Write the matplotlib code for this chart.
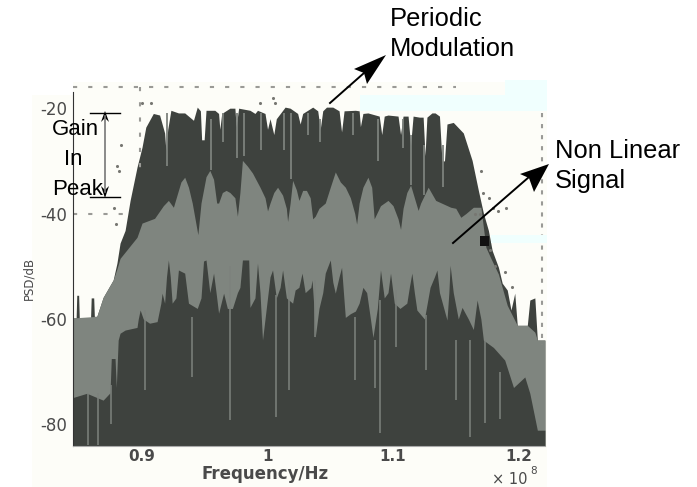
import matplotlib
matplotlib.use('Agg')
import matplotlib.pyplot as plt
from matplotlib.patches import Polygon, Rectangle

W, H = 697, 487

# frequency in units of 1e8 Hz, PSD in dB
upper_freq = [.845, .8475, .848, .8495, .850, .859, .8595, .8615, .862, .864, .869, .877, .880, .8825, .8865, .8905, .896, .900, .903,
              .909, .914, .918, .919, .9205, .923, .929, .934, .941, .944, .9465, .9475, .9495, .951, .958, .961, .962, .9635, .970,
              .974, .975, .977, .986, .990, .992, .998, 1.000, 1.002, 1.005, 1.007, 1.014, 1.018, 1.024, 1.026, 1.028, 1.032, 1.036,
              1.040, 1.042, 1.044, 1.047, 1.052, 1.057, 1.059, 1.061, 1.070, 1.073, 1.074, 1.076, 1.080, 1.089, 1.091, 1.093, 1.096,
              1.104, 1.106, 1.108, 1.112, 1.114, 1.116, 1.121, 1.124, 1.1255, 1.127, 1.131, 1.1335, 1.137, 1.139, 1.141, 1.143, 1.148,
              1.156, 1.163, 1.168, 1.172, 1.176, 1.179, 1.184, 1.187, 1.191, 1.194, 1.197, 1.199, 1.207, 1.209, 1.213, 1.215, 1.221]
upper_psd = [-59.8, -59.8, -55.5, -55.5, -59.8, -59.8, -56.0, -56.0, -59.5, -59.5, -55.9, -52.6, -49.4, -45.6, -43.2, -37.5, -31.2, -27.4, -23.6,
             -21.0, -21.3, -24.7, -28.0, -24.0, -20.4, -20.9, -20.9, -22.3, -19.8, -20.5, -26.0, -26.0, -20.4, -20.4, -21.0, -24.0, -21.0, -20.0,
             -20.0, -23.5, -20.0, -20.4, -21.0, -20.4, -21.0, -24.0, -22.0, -25.0, -22.0, -19.8, -20.0, -21.0, -23.0, -21.0, -20.4, -19.8,
             -20.5, -24.0, -20.5, -19.8, -19.8, -20.5, -24.5, -20.5, -20.4, -20.5, -23.5, -21.0, -20.9, -21.5, -25.0, -21.5, -21.3,
             -21.5, -25.0, -21.5, -21.5, -27.0, -21.5, -21.7, -21.7, -29.0, -21.7, -20.9, -20.9, -21.5, -30.0, -30.0, -23.0, -22.7,
             -24.7, -29.9, -35.6, -39.9, -43.2, -47.0, -50.2, -53.2, -54.5, -58.3, -55.1, -61.2, -61.2, -56.4, -56.0, -64.0, -64.0]

mid_freq = [.845, .864, .869, .877, .880, .8825, .896, .900, .910, .917, .921, .925, .931, .934, .937, .940, .9445, .947, .951, .954, .957,
            .9595, .961, .964, .967, .970, .974, .976, .978, .980, .984, .988, .994, .998, 1.000, 1.002, 1.005, 1.008, 1.012, 1.015, 1.016,
            1.018, 1.020, 1.023, 1.025, 1.028, 1.031, 1.034, 1.036, 1.038, 1.041, 1.046, 1.050, 1.054, 1.058, 1.062, 1.066, 1.0695, 1.071,
            1.073, 1.076, 1.080, 1.083, 1.085, 1.087, 1.090, 1.096, 1.100, 1.104, 1.106, 1.108, 1.111, 1.114, 1.117, 1.120, 1.122, 1.128,
            1.134, 1.146, 1.150, 1.154, 1.158, 1.164, 1.170, 1.174, 1.178, 1.184, 1.191, 1.199, 1.207, 1.213, 1.215, 1.221]
mid_psd = [-59.8, -59.5, -55.9, -52.6, -50.5, -48.5, -44.5, -41.8, -40.9, -38.5, -37.5, -38.8, -34.0, -33.1, -35.0, -38.0, -44.0, -38.0, -33.0, -31.8, -33.5,
           -38.0, -38.0, -36.0, -35.6, -36.0, -37.0, -40.5, -36.0, -29.9, -31.0, -32.3, -35.0, -37.0, -39.5, -38.0, -36.0, -35.0, -36.5, -39.0, -41.5,
           -38.0, -33.7, -35.5, -37.5, -35.6, -35.6, -37.0, -41.0, -40.5, -39.0, -38.0, -35.0, -32.1, -34.0, -35.0, -37.0, -40.0, -42.0,
           -38.0, -35.0, -33.1, -35.0, -41.0, -40.0, -38.5, -37.5, -38.5, -41.0, -43.0, -39.0, -36.0, -34.6, -37.0, -39.4, -38.0, -35.0,
           -37.5, -38.8, -39.0, -40.7, -40.0, -38.8, -38.8, -46.4, -48.5, -51.5, -57.4, -61.2, -61.2, -62.5, -64.0, -64.0]

lower_freq = [.845, .856, .869, .8745, .8755, .8785, .8795, .881, .8825, .8865, .896, .897, .8985, .901, .906, .912, .915, .916, .918, .9195,
              .921, .9225, .924, .927, .929, .934, .937, .944, .947, .949, .951, .954, .957, .959, .961, .965, .968, .972, .976, .978, .980,
              .985, .986, .990, .992, .994, .996, .999, 1.002, 1.004, 1.007, 1.010, 1.012, 1.015, 1.020, 1.022, 1.025, 1.0275, 1.030, 1.0345,
              1.0355, 1.037, 1.038, 1.041, 1.044, 1.046, 1.050, 1.052, 1.054, 1.057, 1.059, 1.0605, 1.062, 1.066, 1.070, 1.073, 1.076, 1.079,
              1.082, 1.084, 1.0875, 1.090, 1.093, 1.096, 1.098, 1.101, 1.1055, 1.111, 1.113, 1.115, 1.117, 1.119, 1.125, 1.1295, 1.133, 1.135,
              1.137, 1.143, 1.1445, 1.1455, 1.148, 1.152, 1.155, 1.160, 1.164, 1.167, 1.170, 1.172, 1.180, 1.189, 1.196, 1.205, 1.209, 1.215, 1.221]
lower_psd = [-74.9, -74.1, -75.4, -74.0, -67.5, -67.5, -73.0, -64.0, -62.7, -62.1, -61.6, -60.0, -58.3, -60.0, -60.8, -60.5, -57.0, -55.1, -57.0, -52.0,
             -48.8, -52.0, -57.0, -56.0, -50.7, -51.3, -57.0, -58.0, -56.0, -49.0, -48.8, -55.0, -51.3, -55.0, -58.9, -55.1, -58.0, -58.0, -55.0, -54.0, -48.8,
             -48.8, -57.8, -56.0, -49.4, -55.0, -64.0, -58.0, -52.0, -50.7, -56.0, -54.0, -50.7, -56.0, -57.0, -54.5, -54.0, -51.3, -55.0, -54.0,
             -52.6, -58.0, -63.5, -58.0, -55.0, -51.3, -48.8, -53.0, -55.1, -52.0, -50.2, -55.0, -59.7, -59.0, -58.5, -57.0, -54.0, -55.0,
             -60.0, -63.5, -58.0, -50.7, -56.0, -55.0, -51.3, -57.0, -58.0, -57.0, -54.0, -51.3, -55.0, -58.3, -60.0, -54.0, -52.0, -50.7,
             -55.0, -60.2, -55.0, -49.8, -55.0, -60.0, -57.8, -60.0, -62.0, -56.4, -60.0, -64.0, -65.4, -67.8, -73.0, -71.0, -74.1, -81.1, -81.1]

# thin light lines inside the dark bands: frequency, from, to
upper_spike_freq = [.920, .955, .9645, .976, .981, .995, 1.013, 1.019, 1.032, 1.042, 1.068, 1.088, 1.108, 1.114, 1.1245, 1.140]
upper_spike_top = [-21, -22, -21, -21, -21, -21, -21, -21, -21, -22, -21, -22, -22, -25, -27, -27]
upper_spike_end = [-31, -31.8, -26.5, -29.5, -29, -28, -28, -33.5, -25, -26.5, -25, -30, -27.5, -34.6, -36.5, -35]

lower_spike_freq = [.857, .865, .875, .902, .940, .970, 1.007, 1.017, 1.038, 1.070, 1.086, 1.090, 1.102, 1.126, 1.150, 1.161, 1.173, 1.185]
lower_spike_top = [-74, -74, -72.6, -58.3, -59.7, -50, -55.5, -52.6, -52.6, -59.7, -64, -56.4, -54.5, -59.3, -64, -64, -64, -70]
lower_spike_end = [-84, -84, -80, -73.5, -71, -79.2, -78.6, -73.5, -63.5, -71.6, -73, -81.7, -65.3, -69.7, -75.4, -82.4, -79.8, -79]

speck_freq = [.907, 1.004, 1.006, .994, .9, .883, .880, .8817, .878, .879, 1.1698, 1.172, 1.180, 1.184, 1.190, 1.1765, 1.165,
              1.169, 1.177, 1.181, 1.189, 1.195]
speck_psd = [-19.0, -18.0, -19.0, -19.0, -19.0, -27.0, -31.0, -32.0, -39.0, -42.0, -32.0, -36.0, -39.0, -39.5, -39.0, -37.0, -40.0,
             -40.0, -47.0, -50.0, -51.0, -54.0]

x_ticks = [0.9, 1.0, 1.1, 1.2]
x_tick_labels = ['0.9', '1', '1.1', '1.2']
y_ticks = [-20, -40, -60, -80]
y_tick_labels = ['-20', '-40', '-60', '-80']

DARK = '#3e423e'
MID = '#7f857f'
LIGHT = '#7d827d'
DOTS = '#9a9a96'
INK = '#4a4a4a'

plt.rcParams['font.family'] = ['Liberation Sans', 'DejaVu Sans']

fig = plt.figure(figsize=(W / 100, H / 100), dpi=100, facecolor='white')

# whole-figure layer in pixel units for the pasted-on notes
back = fig.add_axes([0, 0, 1, 1], zorder=0)
back.set_xlim(0, W)
back.set_ylim(H, 0)
back.axis('off')
back.add_patch(Rectangle((32, 95), 515, 392, color='#fdfdf8', lw=0))
back.add_patch(Rectangle((73, 82), 474, 20, color='#fdfdf8', lw=0))

ax = fig.add_axes([73 / W, 1 - 446 / H, 472 / W, 361 / H], zorder=1)
ax.patch.set_alpha(0)
ax.set_xlim(.845, 1.2211)
ax.set_ylim(-84.1, -15.6)
floor = -84.1

ax.fill_between(upper_freq, upper_psd, floor, color=DARK, lw=0)
ax.vlines(upper_spike_freq, upper_spike_end, upper_spike_top, color=LIGHT, lw=1.3)
ax.fill_between(mid_freq, mid_psd, floor, color=MID, lw=0)
ax.fill_between(lower_freq, lower_psd, floor, color=DARK, lw=0)
ax.vlines(lower_spike_freq, lower_spike_end, lower_spike_top, color=LIGHT, lw=1.1)
ax.scatter(speck_freq, speck_psd, s=5, color='#777772', lw=0, zorder=3)

# dotted remains of the grid
dotted = (0, (2, 5.3))
ax.plot([.845, 1.15], [-16, -16], color=DOTS, lw=1.5, ls=dotted)
ax.plot([.845, .892], [-40, -40], color=DOTS, lw=1.5, ls=dotted)
ax.plot([.8985, .8985], [-16, -32], color=DOTS, lw=1.5, ls=dotted)
ax.plot([1.2185, 1.2185], [-21, -65], color=DOTS, lw=1.5, ls=(0, (2, 3.3)))

ax.set_xticks(x_ticks, x_tick_labels, fontsize=11, family='DejaVu Sans', weight='bold', color=INK)
ax.set_yticks(y_ticks, y_tick_labels, fontsize=12, family='DejaVu Sans', color=INK)
ax.tick_params(length=0)
ax.tick_params(axis='x', pad=2.5)
ax.tick_params(axis='y', pad=4)
for side in ['top', 'right']:
    ax.spines[side].set_visible(False)
ax.spines['bottom'].set_color('#aaaaaa')
ax.spines['left'].set_color('#333333')
ax.spines['left'].set_bounds(-84.1, -17)

# notes on top of the plot
top = fig.add_axes([0, 0, 1, 1], zorder=2)
top.set_xlim(0, W)
top.set_ylim(H, 0)
top.axis('off')
top.patch.set_alpha(0)

top.add_patch(Rectangle((505, 80), 42, 15, color='#f0fffe', lw=0))
top.add_patch(Rectangle((360, 95), 187, 16, color='#f0fffe', lw=0))
top.add_patch(Rectangle((491, 235), 56, 8, color='#f0fffe', lw=0))
top.add_patch(Rectangle((480, 236), 9, 10, color='#111111', lw=0))

top.text(265, 479, 'Frequency/Hz', ha='center', va='baseline', fontsize=12, family='DejaVu Sans', weight='bold', color=INK)
top.text(29, 278, 'PSD/dB', ha='center', va='center', rotation=90, fontsize=8.5, family='DejaVu Sans', color=INK)
top.text(492, 484, '\u00d7 10', ha='left', va='baseline', fontsize=10.5, family='DejaVu Sans', color=INK)
top.text(530, 474, '8', ha='left', va='baseline', fontsize=7.5, family='DejaVu Sans', color=INK)

top.text(390, 26, 'Periodic', fontsize=18.4, va='baseline', color='black')
top.text(390, 56, 'Modulation', fontsize=18.4, va='baseline', color='black')
top.text(555, 158, 'Non Linear', fontsize=18.4, va='baseline', color='black')
top.text(555, 188, 'Signal', fontsize=18.4, va='baseline', color='black')
top.text(52, 135, 'Gain', fontsize=16, va='baseline', color='black')
top.text(64, 165, 'In', fontsize=16, va='baseline', color='black')
top.text(52, 195, 'Peak', fontsize=16, va='baseline', color='black')

# note arrows with notched heads
top.plot([330, 364], [103, 73], color='black', lw=1.4)
top.add_patch(Polygon([(386, 55), (354, 69), (364, 73), (367, 84)], color='black', lw=0))
top.plot([453, 529], [243, 177], color='black', lw=1.4)
top.add_patch(Polygon([(549, 164), (520, 174), (529, 178), (534, 192)], color='black', lw=0))

top.plot([105, 105], [116, 192], color='#777777', lw=1.2)
top.add_patch(Polygon([(105, 111), (101, 122), (105, 118), (109, 122)], color='black', lw=0))
top.add_patch(Polygon([(105, 198), (101, 186), (105, 190), (109, 186)], color='black', lw=0))
top.plot([90, 120], [113, 113], color='black', lw=1)
top.plot([90, 120], [196.5, 196.5], color='black', lw=1)

fig.savefig('out.png', dpi=100)
